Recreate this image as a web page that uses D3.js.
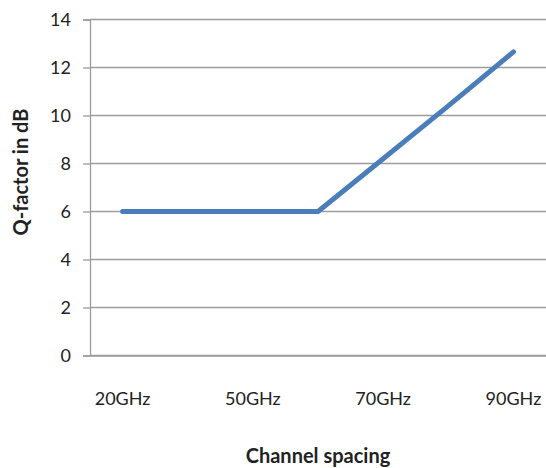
<!DOCTYPE html>
<html>
<head>
<meta charset="utf-8">
<script src="https://cdn.jsdelivr.net/npm/d3@7"></script>
<style>
  body { margin: 0; background: #fff; }
  text { font-family: Lato, "Open Sans", sans-serif; fill: #222; }
</style>
</head>
<body>
<div id="chart"></div>
<script>
// channel spacing categories (only every second one gets a label, like the original)
var categories = ["20GHz", "40GHz", "50GHz", "60GHz", "70GHz", "80GHz", "90GHz"];
var shownLabels = ["20GHz", "50GHz", "70GHz", "90GHz"];
var qFactor = [6, 6, 6, 6, 8.2, 10.4, 12.65];
var yTicks = [0, 2, 4, 6, 8, 10, 12, 14];

var width = 546, height = 468;
var margin = {top: 19.5, right: 0, bottom: 112.5, left: 90};
var w = width - margin.left - margin.right;
var h = height - margin.top - margin.bottom;

var svg = d3.select("#chart").append("svg")
    .attr("width", width)
    .attr("height", height);

var g = svg.append("g")
    .attr("transform", "translate(" + margin.left + "," + margin.top + ")");

var x = d3.scaleBand().domain(categories).range([0, w]).padding(0);
var y = d3.scaleLinear().domain([0, 14]).range([h, 0]);

//gridlines
g.selectAll(".grid")
    .data(yTicks)
    .enter()
    .append("line")
    .attr("class", "grid")
    .attr("x1", 0)
    .attr("x2", w)
    .attr("y1", function(d) { return y(d); })
    .attr("y2", function(d) { return y(d); })
    .style("stroke", "#9c9c9c")
    .style("stroke-width", 1.3);

//y axis
var yAxis = g.append("g")
    .call(d3.axisLeft(y).tickValues(yTicks).tickSize(7).tickPadding(12));
yAxis.select(".domain").style("stroke", "#9c9c9c").style("stroke-width", 1.3);
yAxis.selectAll(".tick line").style("stroke", "#9c9c9c").style("stroke-width", 1.3);
yAxis.selectAll(".tick text")
    .style("font-size", "18px")
    .style("fill", "#222");

//x axis
var xAxis = g.append("g")
    .attr("transform", "translate(0," + h + ")")
    .call(d3.axisBottom(x).tickValues(shownLabels).tickSize(0).tickPadding(37));
xAxis.select(".domain").style("stroke", "#9c9c9c").style("stroke-width", 1.3);
xAxis.selectAll(".tick text")
    .style("font-size", "18px")
    .style("fill", "#222");

//the line
var line = d3.line()
    .x(function(d, i) { return x(categories[i]) + x.bandwidth() / 2; })
    .y(function(d) { return y(d); });

g.append("path")
    .datum(qFactor)
    .attr("d", line)
    .style("fill", "none")
    .style("stroke", "#4a7ebb")
    .style("stroke-width", 5)
    .style("stroke-linecap", "round")
    .style("stroke-linejoin", "round");

//axis titles
svg.append("text")
    .attr("x", margin.left + w / 2)
    .attr("y", 463)
    .attr("text-anchor", "middle")
    .style("font-size", "20px")
    .style("font-weight", "bold")
    .text("Channel spacing");

svg.append("text")
    .attr("transform", "translate(28,172) rotate(-90)")
    .attr("text-anchor", "middle")
    .style("font-size", "20px")
    .style("font-weight", "bold")
    .text("Q-factor in dB");
</script>
</body>
</html>
